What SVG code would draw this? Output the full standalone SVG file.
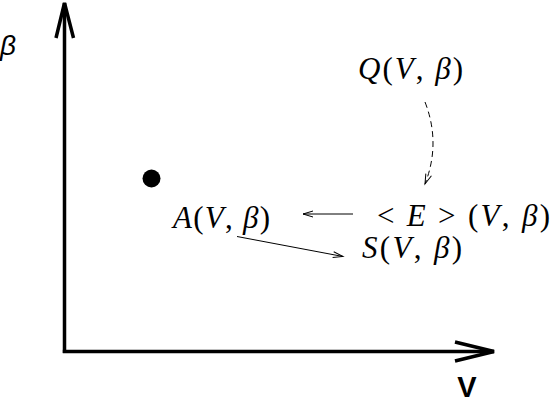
<svg xmlns="http://www.w3.org/2000/svg" width="553" height="402" viewBox="0 0 553 402">
<style>
.axis{stroke:#000;stroke-width:3.5;fill:none;stroke-linecap:butt;stroke-linejoin:miter}
.conn{stroke:#000;stroke-width:1;fill:none}
.math{font-family:"Liberation Serif","Times New Roman",serif;font-size:31px;fill:#000}
.it{font-style:italic}
.lbl{font-family:"Liberation Sans",Arial,sans-serif;fill:#000}
</style>
<defs>
<marker id="ah" markerUnits="userSpaceOnUse" markerWidth="14" markerHeight="10" viewBox="-12 -5 14 10" refX="0" refY="0" orient="auto">
<path d="M-10,-3 L0,0 L-10,3" fill="none" stroke="#000" stroke-width="1"/>
</marker>
</defs>
<rect width="553" height="402" fill="#fff"/>
<g id="axes">
<path class="axis" d="M64.5,353 L64.5,3"/>
<path class="axis" d="M56,38 L64.5,3 L73.5,38"/>
<path class="axis" d="M62.8,351.5 L494,351.5"/>
<path class="axis" d="M455,342 L494,351.5 L455,361"/>
<text class="lbl" x="0" y="55" font-size="28" font-style="italic">β</text>
<text class="lbl" x="467" y="397" font-size="29" font-weight="bold" text-anchor="middle">V</text>
</g>
<g id="point">
<circle cx="151.5" cy="178.5" r="9" fill="#000"/>
</g>
<g id="A">
<text class="math" x="173" y="228" textLength="97" lengthAdjust="spacing"><tspan class="it">A</tspan>(<tspan class="it">V</tspan>, <tspan class="it">β</tspan>)</text>
</g>
<g id="E">
<text class="math" x="377" y="226" textLength="173" lengthAdjust="spacing">&lt; <tspan class="it">E</tspan> &gt; (<tspan class="it">V</tspan>, <tspan class="it">β</tspan>)</text>
</g>
<g id="S">
<text class="math" x="362" y="258" textLength="100" lengthAdjust="spacing"><tspan class="it">S</tspan>(<tspan class="it">V</tspan>, <tspan class="it">β</tspan>)</text>
</g>
<g id="Q">
<text class="math" x="358" y="79" textLength="105" lengthAdjust="spacing"><tspan class="it">Q</tspan>(<tspan class="it">V</tspan>, <tspan class="it">β</tspan>)</text>
</g>
<g id="connectors">
<path class="conn" d="M353,214 L303,214" marker-end="url(#ah)"/>
<path class="conn" d="M237,236.5 L343,256.5" marker-end="url(#ah)"/>
<path class="conn" d="M425,102 Q441,143 425,184" stroke-dasharray="6,4" marker-end="url(#ah)"/>
</g>
</svg>
